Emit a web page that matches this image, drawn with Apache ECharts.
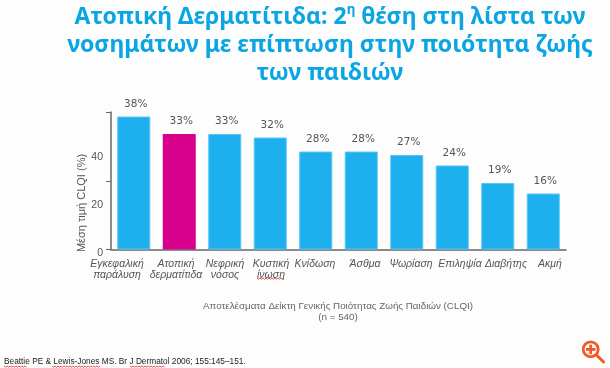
<!DOCTYPE html>
<html><head><meta charset="utf-8">
<style>html,body{margin:0;padding:0;background:#fdfdfd}#c{width:610px;height:368px}</style>
<script src="https://cdn.jsdelivr.net/npm/echarts@6/dist/echarts.min.js"></script>
</head><body><div id="c"></div>
<script>
const categories = ['Εγκεφαλική\nπαράλυση','Ατοπική\nδερματίτιδα','Νεφρική\nνόσος','Κυστική\nίνωση','Κνίδωση','Άσθμα','Ψωρίαση','Επιληψία','Διαβήτης','Ακμή'];
const values = [38,33,33,32,28,28,27,24,19,16];
const highlightIndex = 1;
const yTickLabels = [0,20,40];
const titleLines = '{t|Ατοπική Δερματίτιδα: 2}{s|η}{t| θέση στη λίστα των}\n{t|νοσημάτων με επίπτωση στην ποιότητα ζωής}\n{t|των παιδιών}';
const yName = 'Μέση τιμή CLQI (%)';
const note = 'Αποτελέσματα Δείκτη Γενικής Ποιότητας Ζωής Παιδιών (CLQI)\n(n = 540)';
const citation = 'Beattie PE & Lewis-Jones MS. Br J Dermatol 2006; 155:145–151.';
const blue = '#1eb0ee', pink = '#d6008c';
// The reference's category labels sit off-centre from their bars: label centres in page pixels.
const labelCenters = [117,176,225,271,315,365,411,460,506,550];
const red = '#e0262a', iconColor = '#f15a24';
const squiggleRanges = [[257,285,278],[4,27,366],[52,100,366],[130,165,366]];
function squiggle(x0,x1,y){const p=[];for(let x=x0,i=0;x<=x1;x+=1.5,i++)p.push([x,y+(i%2?1.2:0)]);return p;}
const chart = echarts.init(document.getElementById('c'), null, {renderer:'canvas'});
chart.setOption({
  animation:false,
  backgroundColor:'#fdfdfd',
  title:{left:325,top:-2,textAlign:'center',
    text:titleLines,
    textStyle:{rich:{
      t:{fontFamily:'Noto Sans',fontSize:23,fontWeight:700,color:'#0aa6e3',lineHeight:28},
      s:{fontFamily:'Noto Sans',fontSize:13.5,fontWeight:700,color:'#0aa6e3',lineHeight:28,verticalAlign:'top',padding:[0,0,8,0]}
    }}},
  grid:[
    {left:111,top:112,width:455,height:137.5},
    {left:111,top:157,width:455,height:96},
    {left:0,top:112,width:610,height:137.5}
  ],
  xAxis:[
    {gridIndex:0,type:'category',data:categories,
      axisLine:{lineStyle:{color:'#666',width:1.5}},axisTick:{show:false},axisLabel:{show:false}},
    {gridIndex:1,type:'category',show:false,data:categories},
    {gridIndex:2,type:'value',min:0,max:610,
      axisLine:{show:false},axisTick:{show:false},splitLine:{show:false},
      axisLabel:{show:true,customValues:labelCenters,formatter:v=>categories[labelCenters.indexOf(v)],
        color:'#555',fontFamily:'Liberation Sans',fontStyle:'italic',fontSize:10.5,lineHeight:11,margin:9}}
  ],
  yAxis:[
    {gridIndex:0,type:'value',min:0,max:39.3,interval:19.65,
      axisLine:{show:true,lineStyle:{color:'#666',width:1.5}},
      axisTick:{show:true,length:5,lineStyle:{color:'#666',width:1}},
      axisLabel:{show:false},splitLine:{show:false}},
    {gridIndex:1,type:'value',min:0,max:40,interval:20,
      axisLine:{show:false},axisTick:{show:false},splitLine:{show:false},
      axisLabel:{color:'#555',fontFamily:'Liberation Sans',fontSize:10.5,margin:8,formatter:v=>yTickLabels.includes(v)?String(v):''}},
    {gridIndex:2,type:'value',show:false,min:0,max:1}
  ],
  series:[{
    type:'bar',xAxisIndex:0,yAxisIndex:0,barWidth:33,
    data:values.map((v,i)=>({value:v,itemStyle:i===highlightIndex?{color:pink}:{color:blue,borderColor:'#55c5f3',borderWidth:1}})),
    label:{show:true,position:'top',distance:7,offset:[2,0],formatter:p=>p.value+'%',color:'#555',fontFamily:'DejaVu Sans',fontSize:10.5}
  }],
  graphic:[
    {type:'text',silent:true,x:82,y:203,rotation:Math.PI/2,
      style:{text:yName,fill:'#555',font:'11px "Liberation Sans"',align:'center',verticalAlign:'middle'}},
    {type:'text',silent:true,x:338,y:301,
      style:{text:note,fill:'#666',font:'9.8px "Liberation Sans"',align:'center',lineHeight:11}},
    {type:'text',silent:true,x:4,y:358,
      style:{text:citation,fill:'#222',font:'8.3px "Liberation Sans"'}},
    ...squiggleRanges.map(s=>({type:'polyline',silent:true,shape:{points:squiggle(s[0],s[1],s[2])},style:{stroke:red,lineWidth:0.8,fill:null}})),
    {type:'circle',silent:true,shape:{cx:590.7,cy:349.3,r:7.5},style:{stroke:iconColor,lineWidth:2.8,fill:'#fdfdfd'}},
    {type:'line',silent:true,shape:{x1:596.5,y1:355,x2:603.5,y2:362},style:{stroke:iconColor,lineWidth:3,lineCap:'round'}},
    {type:'rect',silent:true,shape:{x:586,y:348,width:9.5,height:2.8},style:{fill:iconColor}},
    {type:'rect',silent:true,shape:{x:589.3,y:344.7,width:2.8,height:9.5},style:{fill:iconColor}}
  ]
});
</script></body></html>
